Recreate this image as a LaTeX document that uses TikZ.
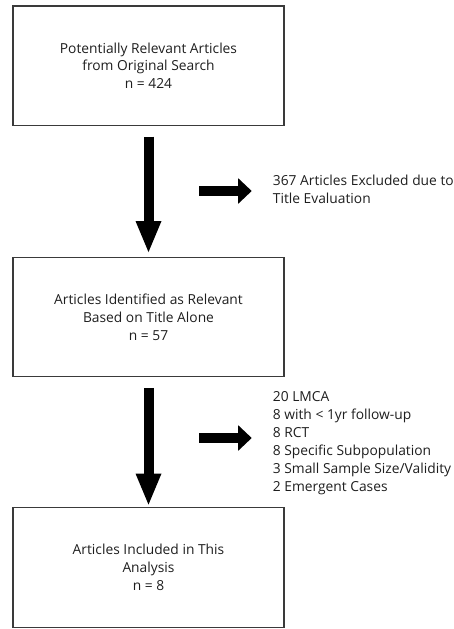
\documentclass[tikz,border=0pt]{standalone}
\usepackage{fontspec}
\setmainfont{Open Sans}
\usetikzlibrary{arrows.meta}
\definecolor{ink}{HTML}{1E1E1E}
\definecolor{edge}{HTML}{3A3A3A}
\begin{document}
\begin{tikzpicture}[x=1pt,y=-1pt,
  stagebox/.style={draw=edge, line width=1.4pt, minimum width=271pt, minimum height=119.5pt,
    inner sep=0pt, align=center, text=ink, font=\fontsize{13.8}{17.8}\selectfont},
  sidetext/.style={anchor=west, inner sep=0pt, align=left, text=ink, font=\fontsize{13.8}{18}\selectfont},
  downarrow/.style={draw=black, line width=10pt, line cap=butt,
    -{Triangle[length=31pt,width=26pt,line width=0pt]}},
  rightarrow/.style={draw=black, line width=10pt, line cap=butt,
    -{Triangle[length=13.5pt,width=25.5pt,line width=0pt]}}]
\useasboundingbox (0,0) rectangle (454,629);
\node[stagebox] (b1) at (148.5,65.75) {Potentially Relevant Articles\\from Original Search\\n = 424};
\node[stagebox] (b2) at (148.5,317) {Articles Identified as Relevant\\Based on Title Alone\\n = 57};
\node[stagebox] (b3) at (148.5,567.5) {Articles Included in This\\Analysis\\n = 8};
\node[sidetext] (ex1) at (272.7,189.5) {367 Articles Excluded due to\\Title Evaluation};
\node[sidetext] (ex2) at (272.7,443.5) {20 LMCA\\8 with < 1yr follow-up\\8 RCT\\8 Specific Subpopulation\\3 Small Sample Size/Validity\\2 Emergent Cases};
\draw[downarrow, shorten <=10.5pt, shorten >=4.5pt] (b1.south) -- (b2.north);
\draw[downarrow, shorten <=10.5pt, shorten >=2.5pt] (b2.south) -- (b3.north);
\coordinate (h1) at (199.3,191);
\coordinate (h2) at (199.3,438);
\draw[rightarrow, shorten >=21pt] (h1) -- (h1 -| ex1.west);
\draw[rightarrow, line width=9.5pt, shorten >=21pt] (h2) -- (h2 -| ex2.west);
\end{tikzpicture}
\end{document}
